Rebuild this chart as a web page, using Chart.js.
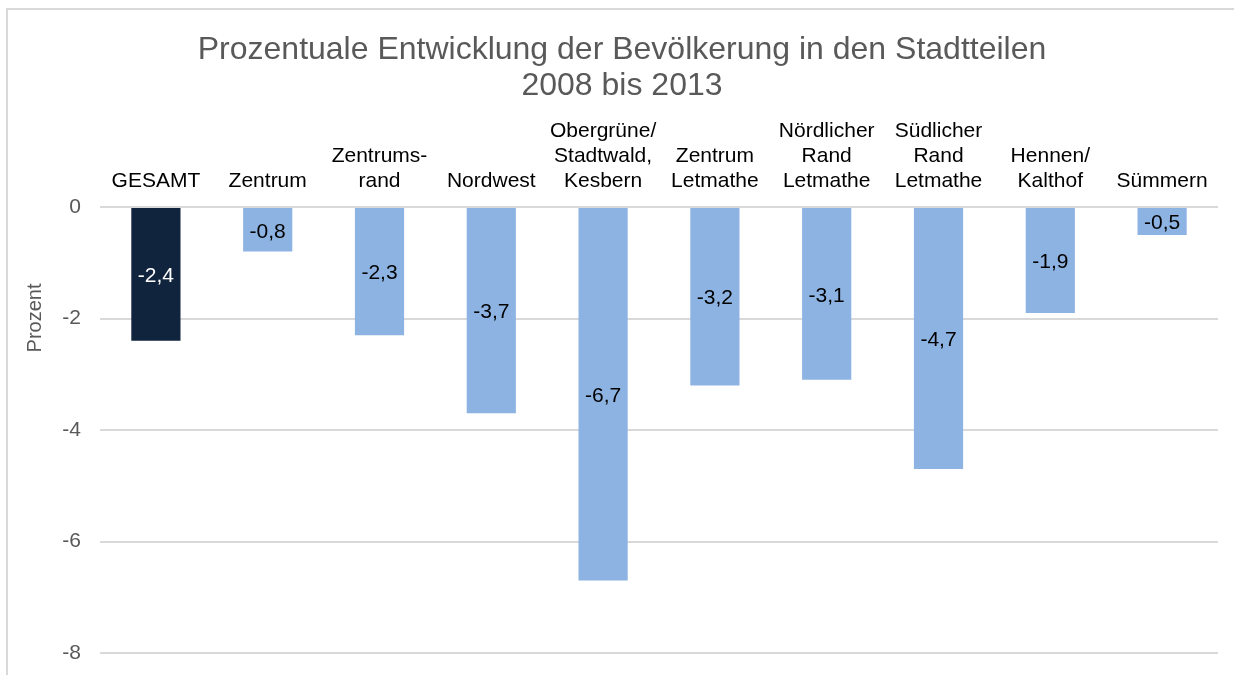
<!DOCTYPE html>
<html>
<head>
<meta charset="utf-8">
<script src="https://cdn.jsdelivr.net/npm/chart.js@4/dist/chart.umd.min.js"></script>
<style>
  html, body { margin: 0; padding: 0; background: #fff; }
  #wrap { width: 1234px; height: 675px; position: relative; }
</style>
</head>
<body>
<div id="wrap"><canvas id="popChart"></canvas></div>
<script>
// Stadtteile (mehrzeilige Beschriftungen wie im Original)
const districts = [
    ['GESAMT'],
    ['Zentrum'],
    ['Zentrums-', 'rand'],
    ['Nordwest'],
    ['Obergrüne/', 'Stadtwald,', 'Kesbern'],
    ['Zentrum', 'Letmathe'],
    ['Nördlicher', 'Rand', 'Letmathe'],
    ['Südlicher', 'Rand', 'Letmathe'],
    ['Hennen/', 'Kalthof'],
    ['Sümmern']
];

// Veränderung in Prozent, 2008 bis 2013
const changePercent = [-2.4, -0.8, -2.3, -3.7, -6.7, -3.2, -3.1, -4.7, -1.9, -0.5];

const titleLines = ['Prozentuale Entwicklung der Bevölkerung in den Stadtteilen', '2008 bis 2013'];
const yTicks = [0, -2, -4, -6, -8];

const FONT = '"Liberation Sans", Arial, sans-serif';
const DARK = '#10243e';
const LIGHT = '#8db3e2';

// grauer Rahmen, Diagrammtitel und Achsentitel
const frame = {
    id: 'frame',
    beforeDraw(chart) {
        const ctx = chart.ctx;
        ctx.save();
        ctx.strokeStyle = '#d9d9d9';
        ctx.lineWidth = 2;
        ctx.strokeRect(7, 9, chart.width + 20, chart.height + 20);

        ctx.fillStyle = '#595959';
        ctx.textAlign = 'center';
        ctx.textBaseline = 'middle';
        ctx.font = '32px ' + FONT;
        titleLines.forEach((t, i) => ctx.fillText(t, 622, 50 + i * 36));

        ctx.font = '20px ' + FONT;
        ctx.translate(35, 318);
        ctx.rotate(-Math.PI / 2);
        ctx.fillText('Prozent', 0, 0);
        ctx.restore();
    }
};

// Werte mittig in die Balken schreiben, deutsches Komma
const barValues = {
    id: 'barValues',
    afterDatasetsDraw(chart) {
        const ctx = chart.ctx;
        const meta = chart.getDatasetMeta(0);
        ctx.save();
        ctx.font = '21px ' + FONT;
        ctx.textAlign = 'center';
        ctx.textBaseline = 'middle';
        meta.data.forEach((bar, i) => {
            const v = chart.data.datasets[0].data[i];
            ctx.fillStyle = i === 0 ? '#ffffff' : '#000000';
            ctx.fillText(v.toFixed(1).replace('.', ','), bar.x, (bar.y + bar.base) / 2 + 2);
        });
        ctx.restore();
    }
};

const ctx = document.getElementById('popChart').getContext('2d');

new Chart(ctx, {
    type: 'bar',
    data: {
        labels: districts,
        datasets: [{
            data: changePercent,
            backgroundColor: changePercent.map((v, i) => i === 0 ? DARK : LIGHT),
            borderWidth: 0,
            barPercentage: 0.44,
            categoryPercentage: 1
        }]
    },
    options: {
        responsive: true,
        maintainAspectRatio: false,
        animation: false,
        layout: {
            padding: { top: 104, right: 16, bottom: 22, left: 0 }
        },
        plugins: {
            legend: { display: false },
            tooltip: { enabled: false },
            title: { display: false }
        },
        scales: {
            x: {
                position: 'top',
                grid: { display: false, drawTicks: false },
                border: { display: false },
                ticks: {
                    color: '#000000',
                    autoSkip: false,
                    maxRotation: 0,
                    padding: 13,
                    font: { family: FONT, size: 21, lineHeight: 1.2 }
                },
                afterFit(scale) { scale.height = 103; }
            },
            y: {
                min: -8,
                max: 0,
                border: { display: false },
                grid: { color: '#d9d9d9', lineWidth: 2, drawTicks: false },
                ticks: {
                    stepSize: 2,
                    color: '#595959',
                    padding: 19,
                    font: { family: FONT, size: 21 },
                    callback: (v) => yTicks.includes(v) ? String(v) : ''
                },
                afterFit(scale) {
                    scale.width = 100;
                    scale.paddingTop = 0;
                    scale.paddingBottom = 0;
                }
            }
        }
    },
    plugins: [frame, barValues]
});
</script>
</body>
</html>
